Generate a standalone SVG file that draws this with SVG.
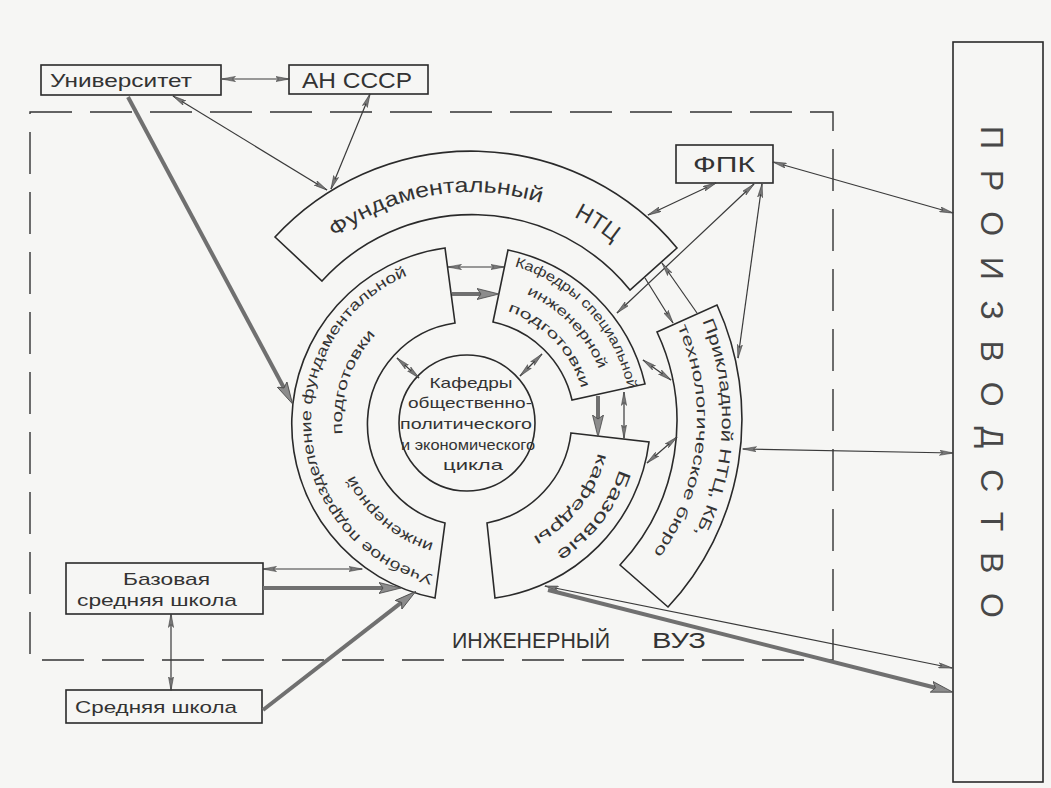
<svg xmlns="http://www.w3.org/2000/svg" width="1051" height="788" viewBox="0 0 1051 788">
<style>
.box{fill:none;stroke:#2a2a2a;stroke-width:1.6}
.seg{fill:#f6f6f4;stroke:#2a2a2a;stroke-width:1.6}
.c{stroke:#3a3a3a;stroke-width:1.2;fill:none;marker-start:url(#a);marker-end:url(#a)}
.c1{stroke:#3a3a3a;stroke-width:1.2;fill:none;marker-end:url(#a)}
.t{stroke:#707070;stroke-width:4;fill:none;marker-end:url(#t)}
text{font-family:"Liberation Sans",Arial,sans-serif;fill:#333}
.s14{font-size:14px}
.s15{font-size:15px}
.s16{font-size:16px}
.s17{font-size:17px}
</style>
<defs>
<marker id="a" viewBox="0 0 14 6" refX="13.5" refY="3" markerWidth="14" markerHeight="6" markerUnits="userSpaceOnUse" orient="auto-start-reverse">
<path d="M0,0.4 L14,3 L0,5.6 L3,3 Z" fill="#777" stroke="#333" stroke-width="0.5"/>
</marker>
<marker id="t" viewBox="0 0 22 12" refX="4" refY="6" markerWidth="22" markerHeight="12" markerUnits="userSpaceOnUse" orient="auto">
<path d="M0,0.5 L22,6 L0,11.5 L4,6 Z" fill="#8c8c8c" stroke="#444" stroke-width="0.8"/>
</marker>
<path id="p-fund" d="M311.2,258.2 A226 226 0 0 1 644.1,272.7"/>
<path id="p-uch1" d="M455.24,578.39 A158 158 0 0 1 455.24,263.61"/>
<path id="p-uch2" d="M446.95,546.07 A127 127 0 0 1 387.37,323.71"/>
<path id="p-sp1" d="M484.03,260.61 A161 161 0 0 1 631,421"/>
<path id="p-sp2" d="M482.11,282.53 A139 139 0 0 1 609,421"/>
<path id="p-sp3" d="M480.11,305.44 A116 116 0 0 1 586,421"/>
<path id="p-bz1" d="M627,421 A157 157 0 0 1 470,578"/>
<path id="p-bz2" d="M602,421 A132 132 0 0 1 470,553"/>
<path id="p-pr1" d="M688.2,293 A252 252 0 0 1 663,581"/>
<path id="p-pr2" d="M666.6,305.5 A227 227 0 0 1 643.9,564.9"/>
</defs>
<rect x="0" y="0" width="1051" height="788" fill="#f6f6f4"/>

<g id="n-vuz">
<rect x="30" y="112" width="803" height="548" fill="none" stroke="#333" stroke-width="1.4" stroke-dasharray="42 18"/>
<text x="452" y="648" font-size="22" textLength="158" lengthAdjust="spacingAndGlyphs">ИНЖЕНЕРНЫЙ</text>
<text x="652" y="648" font-size="22" textLength="54" lengthAdjust="spacingAndGlyphs">ВУЗ</text>
</g>

<g id="n-univ">
<rect class="box" x="41" y="65" width="180" height="30"/>
<text x="50" y="87" font-size="19" textLength="142" lengthAdjust="spacingAndGlyphs">Университет</text>
</g>
<g id="n-an">
<rect class="box" x="289" y="65" width="139" height="29"/>
<text x="302" y="88" font-size="22" textLength="110" lengthAdjust="spacingAndGlyphs">АН СССР</text>
</g>
<g id="n-fpk">
<rect class="box" x="676" y="145" width="97" height="38"/>
<text x="693" y="172" font-size="22" textLength="62" lengthAdjust="spacingAndGlyphs">ФПК</text>
</g>
<g id="n-proizv">
<rect class="box" x="953" y="42" width="90" height="740"/>
<text transform="translate(992,372) rotate(90)" x="0" y="11" font-size="32" text-anchor="middle" textLength="492" lengthAdjust="spacing" style="fill:#484848">ПРОИЗВОДСТВО</text>
</g>
<g id="n-bazshk">
<rect class="box" x="66" y="563" width="197" height="51"/>
<text x="123" y="585" class="s17" textLength="87" lengthAdjust="spacingAndGlyphs">Базовая</text>
<text x="77" y="606" class="s17" textLength="160" lengthAdjust="spacingAndGlyphs">средняя школа</text>
</g>
<g id="n-shk">
<rect class="box" x="66" y="690" width="196" height="33"/>
<text x="75" y="713" class="s17" textLength="162" lengthAdjust="spacingAndGlyphs">Средняя школа</text>
</g>

<g id="n-fund">
<path class="seg" d="M275,237 A267 267 0 0 1 677,248 L630,290 A203 203 0 0 0 322,281 Z"/>
<text font-size="21"><textPath href="#p-fund" startOffset="31.5" textLength="217" lengthAdjust="spacingAndGlyphs">Фундаментальный</textPath></text>
<text font-size="23"><textPath href="#p-fund" startOffset="284" textLength="47" lengthAdjust="spacingAndGlyphs">НТЦ</textPath></text>
</g>
<g id="n-prik">
<path class="seg" d="M657,332 L717,305 A275 275 0 0 1 668,607 L620,565 A210 210 0 0 0 657,332 Z"/>
<text class="s16"><textPath href="#p-pr1" startOffset="31" textLength="220" lengthAdjust="spacingAndGlyphs">Прикладной НТЦ, КБ,</textPath></text>
<text class="s15"><textPath href="#p-pr2" startOffset="24" textLength="238" lengthAdjust="spacingAndGlyphs">технологическое бюро</textPath></text>
</g>
<g id="n-ucheb">
<path class="seg" d="M445,248 A177.5 177.5 0 0 0 435,598 L445,523 A102 102 0 0 1 455,323 Z"/>
<text class="s15"><textPath href="#p-uch1" startOffset="22" textLength="397" lengthAdjust="spacingAndGlyphs">Учебное подразделение фундаментальной</textPath></text>
<text class="s15"><textPath href="#p-uch2" startOffset="13.4" textLength="108" lengthAdjust="spacingAndGlyphs">инженерной</textPath></text>
<text class="s15"><textPath href="#p-uch2" startOffset="164" textLength="108" lengthAdjust="spacingAndGlyphs">подготовки</textPath></text>
</g>
<g id="n-spec">
<path class="seg" d="M508,250 A178 178 0 0 1 645,384 L572,400 A103 103 0 0 0 493,322 Z"/>
<text class="s14"><textPath href="#p-sp1" startOffset="31" textLength="176" lengthAdjust="spacingAndGlyphs">Кафедры специальной</textPath></text>
<text class="s14"><textPath href="#p-sp2" startOffset="46" textLength="107" lengthAdjust="spacingAndGlyphs">инженерной</textPath></text>
<text class="s14"><textPath href="#p-sp3" startOffset="28" textLength="111" lengthAdjust="spacingAndGlyphs">подготовки</textPath></text>
</g>
<g id="n-baz">
<path class="seg" d="M571,433 L649,442 A180 180 0 0 1 495,598 L487,523 A104 104 0 0 0 571,433 Z"/>
<text font-size="18"><textPath href="#p-bz1" startOffset="49" textLength="107" lengthAdjust="spacingAndGlyphs">Базовые</textPath></text>
<text class="s16"><textPath href="#p-bz2" startOffset="32" textLength="110" lengthAdjust="spacingAndGlyphs">кафедры</textPath></text>
</g>
<g id="n-kaf-obsh">
<circle class="seg" cx="467" cy="423" r="68"/>
<text x="471" y="388" class="s15" text-anchor="middle" textLength="83" lengthAdjust="spacingAndGlyphs">Кафедры</text>
<text x="470" y="408" class="s15" text-anchor="middle" textLength="124" lengthAdjust="spacingAndGlyphs">общественно-</text>
<text x="466" y="429" class="s15" text-anchor="middle" textLength="132" lengthAdjust="spacingAndGlyphs">политического</text>
<text x="468" y="450" class="s15" text-anchor="middle" textLength="134" lengthAdjust="spacingAndGlyphs">и экономического</text>
<text x="473" y="470" class="s15" text-anchor="middle" textLength="60" lengthAdjust="spacingAndGlyphs">цикла</text>
</g>

<g id="connectors">
<line class="c" x1="222" y1="79" x2="289" y2="79"/>
<line class="c" x1="173" y1="96" x2="327" y2="190"/>
<line class="c" x1="370" y1="94" x2="331" y2="189"/>
<line class="c" x1="648" y1="215" x2="716" y2="183"/>
<line class="c" x1="617" y1="313" x2="754" y2="184"/>
<line class="c1" x1="645" y1="278" x2="673" y2="323"/>
<line class="c1" x1="697" y1="313" x2="662" y2="263"/>
<line class="c" x1="738" y1="358" x2="762" y2="184"/>
<line class="c" x1="773" y1="162" x2="953" y2="213"/>
<line class="c" x1="743" y1="449" x2="953" y2="453"/>
<line class="c" x1="545" y1="586" x2="952" y2="668"/>
<line class="c" x1="263" y1="569" x2="362" y2="569"/>
<line class="c" x1="171" y1="614" x2="171" y2="690"/>
<line class="c" x1="448" y1="267" x2="504" y2="267"/>
<line class="c" x1="397" y1="358" x2="419" y2="378"/>
<line class="c" x1="542" y1="354" x2="520" y2="376"/>
<line class="c" x1="624" y1="392" x2="624" y2="438"/>
<line class="c" x1="643" y1="360" x2="671" y2="380"/>
<line class="c" x1="647" y1="463" x2="677" y2="437"/>
<line class="t" x1="128" y1="97" x2="284" y2="388"/>
<line class="t" x1="263" y1="588" x2="383" y2="588"/>
<line class="t" x1="263" y1="710" x2="401.6" y2="602.4"/>
<line class="t" x1="452" y1="294" x2="481" y2="294"/>
<line class="t" x1="598" y1="396" x2="598" y2="419"/>
<line class="t" x1="548" y1="590" x2="935.5" y2="687.8"/>
</g>
</svg>
